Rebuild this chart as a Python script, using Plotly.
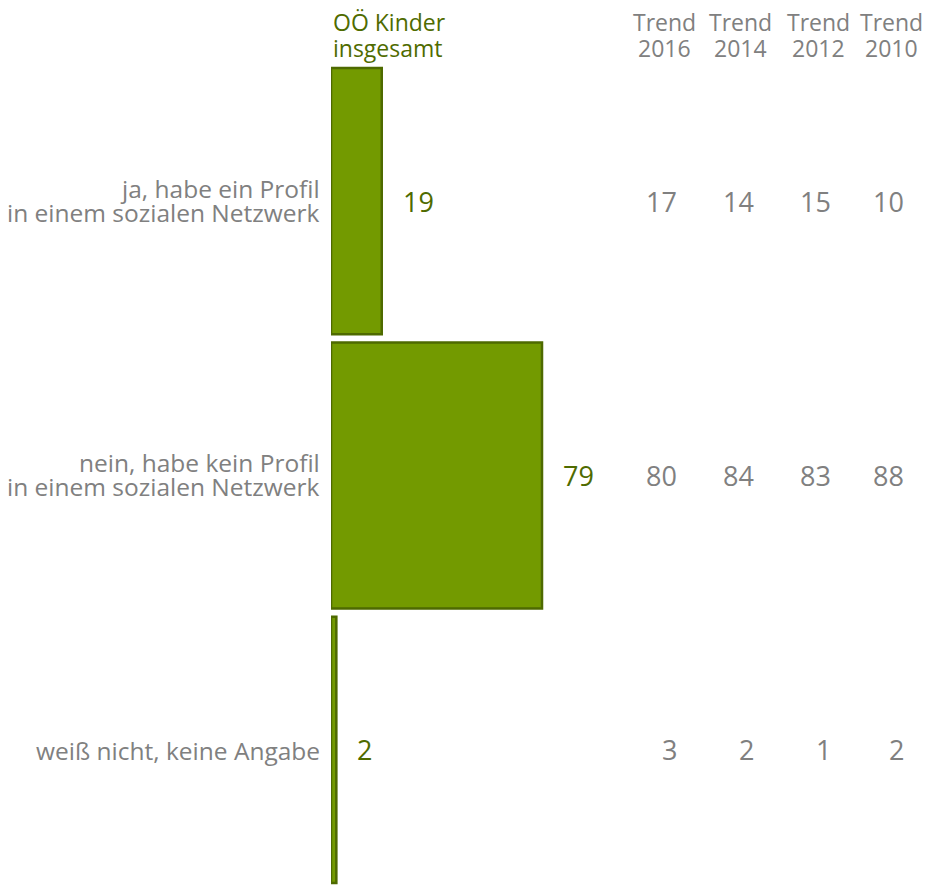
import plotly.graph_objects as go

categories = ["ja, habe ein Profil in einem sozialen Netzwerk",
              "nein, habe kein Profil in einem sozialen Netzwerk",
              "weiß nicht, keine Angabe"]
category_lines = [["ja, habe ein Profil", "in einem sozialen Netzwerk"],
                  ["nein, habe kein Profil", "in einem sozialen Netzwerk"],
                  ["weiß nicht, keine Angabe"]]
values = [19, 79, 2]
trend_years = ["2016", "2014", "2012", "2010"]
trend_2016 = [17, 80, 3]
trend_2014 = [14, 84, 2]
trend_2012 = [15, 83, 1]
trend_2010 = [10, 88, 2]
trends = [trend_2016, trend_2014, trend_2012, trend_2010]

OFF = 8  # default body margin of the page
W, H = 936 - OFF, 887 - OFF
ML, MR, MT, MB = 331 - OFF, 0, 64 - OFF, 0
PW = W - ML - MR
PH = H - MT - MB
FONT = "Open Sans"
GRAY = "#808080"
DGREEN = "#4F6B00"


def px_x(page_px):
    return (page_px - OFF - ML) / PW


def px_y(page_py):
    return 1 - (page_py - OFF - MT) / PH


fig = go.Figure()
fig.add_trace(go.Bar(
    x=values, y=categories, orientation="h",
    marker=dict(color="#739A00", line=dict(color="#4E6A00", width=2.5)),
    hoverinfo="skip",
))

ann = []
# value labels next to the bars
for c, v in zip(categories, values):
    ann.append(dict(x=v, y=c, xref="x", yref="y", text=str(v), showarrow=False,
                    xanchor="left", xshift=19, font=dict(family=FONT, size=27, color=DGREEN)))

# category labels (left)
for c, lines in zip(categories, category_lines):
    shifts = [13, -11] if len(lines) == 2 else [-1]
    for line, s in zip(lines, shifts):
        ann.append(dict(x=px_x(322), y=c, xref="paper", yref="y", text=line,
                        showarrow=False, xanchor="right", yshift=s,
                        font=dict(family=FONT, size=24.5, color=GRAY)))

# trend columns
header_px = [664, 740, 818, 891]
value_px = [679, 756, 833, 906]
for yr, hx, vx, series in zip(trend_years, header_px, value_px, trends):
    for txt, py in (("Trend", 22.5), (yr, 47.5)):
        ann.append(dict(x=px_x(hx), y=px_y(py), xref="paper", yref="paper",
                        text=txt, showarrow=False, xanchor="center", yanchor="middle",
                        font=dict(family=FONT, size=23, color=GRAY)))
    for c, v in zip(categories, series):
        ann.append(dict(x=px_x(vx), y=c, xref="paper", yref="y", text=str(v),
                        showarrow=False, xanchor="right",
                        font=dict(family=FONT, size=27, color=GRAY)))

# header of the main column
for txt, py in (("OÖ Kinder", 22.5), ("insgesamt", 47.5)):
    ann.append(dict(x=px_x(331), y=px_y(py), xref="paper", yref="paper",
                    text=txt, showarrow=False, xanchor="left", yanchor="middle",
                    font=dict(family=FONT, size=23, color=DGREEN)))

fig.update_layout(
    width=W, height=H,
    margin=dict(l=ML, r=MR, t=MT, b=MB, pad=0),
    paper_bgcolor="white", plot_bgcolor="white",
    showlegend=False, bargap=0.03,
    annotations=ann,
    xaxis=dict(range=[0, PW / 2.671], visible=False, fixedrange=True),
    yaxis=dict(autorange="reversed", showgrid=False, zeroline=False, showline=False,
               ticks="", showticklabels=False, fixedrange=True),
)
fig.write_html("out.html")
